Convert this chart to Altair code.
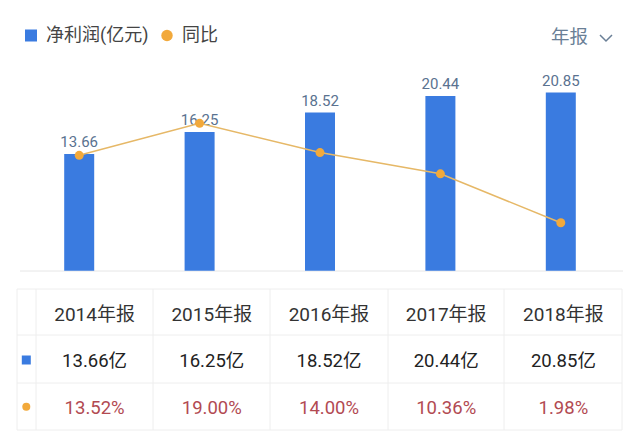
import altair as alt
import pandas as pd

# ---- data ----
years = ["2014", "2015", "2016", "2017", "2018"]
profit = [13.66, 16.25, 18.52, 20.44, 20.85]      # 净利润(亿元)
growth = [13.52, 19.00, 14.00, 10.36, 1.98]       # 同比 (%)
headers = [y + "年报" for y in years]
legend_labels = ["净利润(亿元)", "同比"]
period_label = "年报"

df = pd.DataFrame({
    "year": years,
    "profit": profit,
    "growth": growth,
    "header": headers,
    "bar_label": [f"{v:.2f}" for v in profit],
    "profit_label": [f"{v:.2f}亿" for v in profit],
    "growth_label": [f"{v:.2f}%" for v in growth],
})
one = pd.DataFrame({"k": [0]})

FONT = "Roboto, 'Noto Sans CJK SC', sans-serif"
BLUE = "#3a7be0"
ORANGE = "#f2a93b"
LINE = "#e6b867"
GRID = "#eeeeee"

base = alt.Chart(df)
single = alt.Chart(one)

xb = alt.X("year:N", axis=None,
           scale=alt.Scale(type="band", domain=years, range=[19, 621],
                           paddingInner=0, paddingOuter=0))
xp = alt.X("year:N", axis=None,
           scale=alt.Scale(type="point", domain=years, range=[19, 621], padding=0.5))
xt = alt.X("year:N", axis=None,
           scale=alt.Scale(type="point", domain=years, range=[36, 622], padding=0.5))
yb = alt.Y("profit:Q", axis=None,
           scale=alt.Scale(domain=[0, 24], range=[270.7, 65.7], nice=False, zero=False))
yg = alt.Y("growth:Q", axis=None,
           scale=alt.Scale(domain=[0, 30], range=[234.3, 59.1], nice=False, zero=False))

layers = []

# baseline
layers.append(single.mark_rule(color="#e6e6e6", strokeWidth=1).encode(
    x=alt.value(20), x2=alt.value(623), y=alt.value(271)))

# bars
layers.append(base.mark_bar(size=30, color=BLUE).encode(x=xb, y=yb))
# bar value labels
layers.append(base.mark_text(dy=-12, font=FONT, fontSize=15, color="#5a7290",
                             baseline="middle").encode(x=xp, y=yb, text="bar_label"))
# growth line + points
layers.append(base.mark_line(color=LINE, strokeWidth=1.5).encode(x=xp, y=yg))
layers.append(base.mark_circle(size=80, color=ORANGE, opacity=1).encode(x=xp, y=yg))

# legend
layers.append(single.mark_square(size=144, color=BLUE, opacity=1).encode(
    x=alt.value(31), y=alt.value(35.5)))
layers.append(single.mark_text(align="left", baseline="middle", font=FONT, fontSize=18,
                               color="#444444").encode(
    x=alt.value(46), y=alt.value(36), text=alt.value(legend_labels[0])))
layers.append(single.mark_circle(size=130, color=ORANGE, opacity=1).encode(
    x=alt.value(167), y=alt.value(35.5)))
layers.append(single.mark_text(align="left", baseline="middle", font=FONT, fontSize=18,
                               color="#444444").encode(
    x=alt.value(182), y=alt.value(36), text=alt.value(legend_labels[1])))

# period selector
layers.append(single.mark_text(align="left", baseline="middle", font=FONT, fontSize=18.5,
                               color="#6a7f96").encode(
    x=alt.value(551), y=alt.value(37), text=alt.value(period_label)))
layers.append(single.mark_point(shape="M-1,-0.5L0,0.5L1,-0.5", filled=False, size=144,
                                color="#6a7f96", strokeWidth=1.5, opacity=1).encode(
    x=alt.value(606), y=alt.value(38)))

# table grid
for yy in [289, 335, 383, 430]:
    layers.append(single.mark_rule(color=GRID, strokeWidth=1).encode(
        x=alt.value(17), x2=alt.value(622), y=alt.value(yy)))
for xx in [17, 36, 153, 270, 388, 504, 622]:
    layers.append(single.mark_rule(color=GRID, strokeWidth=1).encode(
        x=alt.value(xx), y=alt.value(289), y2=alt.value(430)))

# table markers
layers.append(single.mark_square(size=81, color=BLUE, opacity=1).encode(
    x=alt.value(26.3), y=alt.value(360)))
layers.append(single.mark_circle(size=64, color=ORANGE, opacity=1).encode(
    x=alt.value(26.3), y=alt.value(406.7)))

# table texts
layers.append(base.mark_text(baseline="middle", font=FONT, fontSize=19,
                             color="#333333").encode(x=xt, y=alt.value(314.5), text="header"))
layers.append(base.mark_text(baseline="middle", font=FONT, fontSize=18.5,
                             color="#222222").encode(x=xt, y=alt.value(361), text="profit_label"))
layers.append(base.mark_text(baseline="middle", font=FONT, fontSize=18.5,
                             color="#b24a52").encode(x=xt, y=alt.value(407.5), text="growth_label"))

chart = alt.layer(*layers).resolve_scale(
    x="independent", y="independent"
).properties(
    width=640, height=436, padding=0,
    autosize=alt.AutoSizeParams(type="none"),
    background="white",
).configure_view(stroke=None)

chart.save("out.html", embed_options={"renderer": "svg", "actions": False})
